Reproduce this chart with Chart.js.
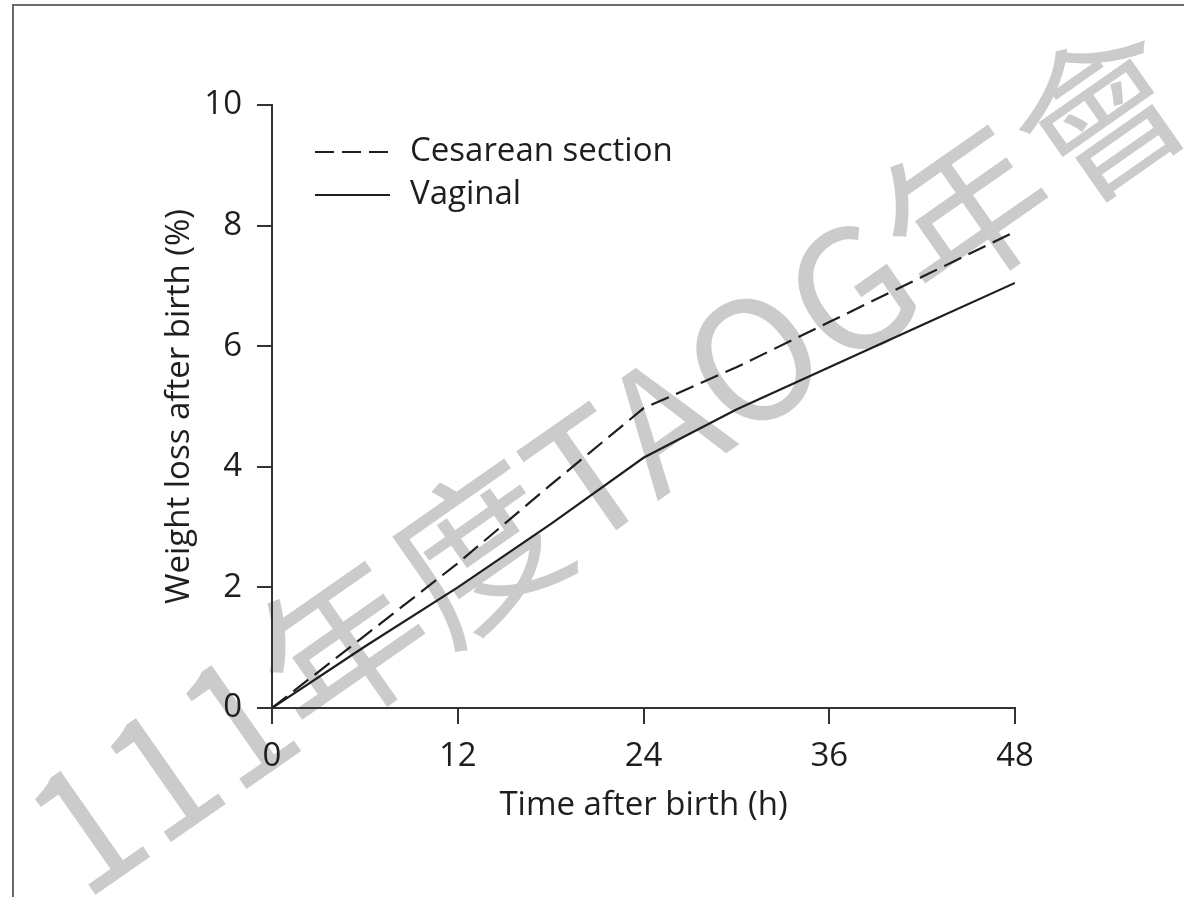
<!DOCTYPE html>
<html>
<head>
<meta charset="utf-8">
<script src="https://cdn.jsdelivr.net/npm/chart.js@4/dist/chart.umd.min.js"></script>
<style>
html,body{margin:0;padding:0;background:#fff;}
#wrap{width:1184px;height:897px;position:relative;}
</style>
</head>
<body>
<div id="wrap"><canvas id="c" width="1184" height="897"></canvas></div>
<script>
// ---- data ----
const hours = [0, 6, 12, 18, 24, 30, 36, 42, 48];
const cesarean = [0, 1.2, 2.4, 3.7, 4.97, 5.65, 6.4, 7.15, 7.9];
const vaginal = [0, 1.02, 2.0, 3.05, 4.15, 4.95, 5.65, 6.35, 7.05];
const seriesLabels = ['Cesarean section', 'Vaginal'];
const xTicks = [0, 12, 24, 36, 48];
const yTicks = [0, 2, 4, 6, 8, 10];
const xTitle = 'Time after birth (h)';
const yTitle = 'Weight loss after birth (%)';
const watermark = '111年度TAOG年會';

const FONT = "'Open Sans', 'Noto Sans', sans-serif";
const FS = 33;
const INK = '#1e1e1e';

const framePlugin = {
  id: 'frame',
  beforeDraw(chart) {
    const ctx = chart.ctx;
    ctx.save();
    ctx.fillStyle = '#fff';
    ctx.fillRect(0, 0, chart.width, chart.height);
    ctx.strokeStyle = '#6a6a6a';
    ctx.lineWidth = 2;
    ctx.beginPath();
    ctx.moveTo(13, chart.height);
    ctx.lineTo(13, 5);
    ctx.lineTo(chart.width, 5);
    ctx.stroke();
    // watermark
    ctx.translate(608, 459);
    ctx.rotate(-35 * Math.PI / 180);
    ctx.fillStyle = '#cbcbcb';
    ctx.font = "166px 'Noto Sans CJK TC', 'Noto Sans CJK SC', sans-serif";
    ctx.textAlign = 'center';
    ctx.textBaseline = 'middle';
    ctx.fillText(watermark, 0, 0);
    ctx.restore();
  }
};

const legendPlugin = {
  id: 'innerLegend',
  afterDatasetsDraw(chart) {
    const ctx = chart.ctx;
    const a = chart.chartArea;
    ctx.save();
    chart.data.datasets.forEach((ds, i) => {
      const y = a.top + 47 + i * 43;
      ctx.strokeStyle = ds.borderColor;
      ctx.lineWidth = ds.borderWidth;
      ctx.setLineDash(ds.borderDash || []);
      ctx.beginPath();
      ctx.moveTo(a.left + 43, y);
      ctx.lineTo(a.left + 118, y);
      ctx.stroke();
      ctx.setLineDash([]);
      ctx.fillStyle = INK;
      ctx.font = FS + "px " + FONT;
      ctx.textAlign = 'left';
      ctx.textBaseline = 'middle';
      ctx.fillText(ds.label, a.left + 138, y);
    });
    ctx.restore();
  }
};

const toPts = (xs, ys) => xs.map((x, i) => ({x: x, y: ys[i]}));

new Chart(document.getElementById('c'), {
  type: 'line',
  data: {
    datasets: [
      {label: seriesLabels[0], data: toPts(hours, cesarean), borderColor: INK, borderWidth: 2.2, borderDash: [19, 8], pointRadius: 0, fill: false, tension: 0},
      {label: seriesLabels[1], data: toPts(hours, vaginal), borderColor: INK, borderWidth: 2.2, pointRadius: 0, fill: false, tension: 0}
    ]
  },
  options: {
    responsive: false,
    animation: false,
    devicePixelRatio: 1,
    layout: {padding: {left: 0, top: 105, right: 169, bottom: 0}},
    plugins: {legend: {display: false}, tooltip: {enabled: false}},
    scales: {
      x: {
        type: 'linear', min: 0, max: 48,
        afterFit(s) { s.height = 189; },
        afterBuildTicks(s) { s.ticks = xTicks.map(v => ({value: v})); },
        grid: {display: true, drawOnChartArea: false, drawTicks: true, tickLength: 16, color: '#333', lineWidth: 2},
        border: {display: true, color: '#333', width: 2},
        ticks: {padding: 13, color: INK, font: {family: FONT, size: FS}, maxRotation: 0},
        title: {display: true, text: xTitle, color: INK, font: {family: FONT, size: FS}, padding: {top: 0, bottom: 72}}
      },
      y: {
        type: 'linear', min: 0, max: 10,
        afterFit(s) { s.width = 272; },
        afterBuildTicks(s) { s.ticks = yTicks.map(v => ({value: v})); },
        grid: {display: true, drawOnChartArea: false, drawTicks: true, tickLength: 15, color: '#333', lineWidth: 2},
        border: {display: true, color: '#333', width: 2},
        ticks: {padding: 15, color: INK, font: {family: FONT, size: FS}},
        title: {display: true, text: yTitle, color: INK, font: {family: FONT, size: FS}, padding: {top: 160, bottom: 0}}
      }
    }
  },
  plugins: [framePlugin, legendPlugin]
});
</script>
</body>
</html>
